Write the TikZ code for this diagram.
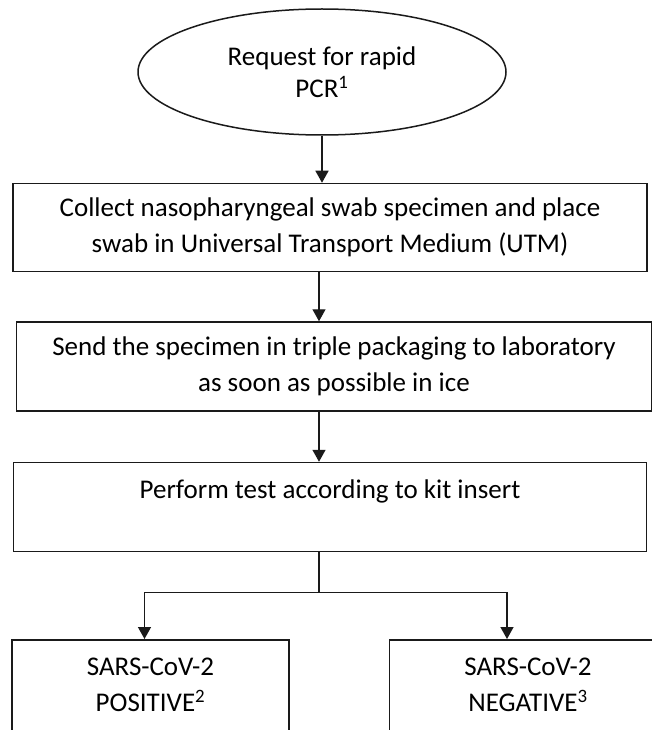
\documentclass[tikz,border=0pt]{standalone}
\usepackage{fontspec}
\setmainfont{Carlito}
\usepackage{tikz}
\usetikzlibrary{positioning, arrows.meta, shapes.geometric}
\definecolor{ink}{HTML}{1a1a1a}

\begin{document}
\begin{tikzpicture}[x=1pt, y=1pt, box/.style={draw=ink, line width=1.5pt, align=center, inner sep=0pt, font=\fontsize{27}{36}\selectfont}, res/.style={box, minimum width=277pt, inner ysep=18pt, anchor=north}, arr/.style={draw=ink, line width=1.4pt, -{Triangle[width=13pt, length=12pt]}}]
\clip (0,0) rectangle (652,-730);
\node[box, ellipse, minimum width=368pt, minimum height=126pt, font=\fontsize{27}{32}\selectfont] (req) at (322,-72) {Request for rapid\\PCR\textsuperscript{1}};
\node[box, minimum width=634pt, minimum height=88pt, below=47pt of req, xshift=8pt] (collect) {Collect nasopharyngeal swab specimen and place\\swab in Universal Transport Medium (UTM)};
\node[box, minimum width=635pt, minimum height=89pt, below=49pt of collect, xshift=4pt] (send) {Send the specimen in triple packaging to laboratory\\as soon as possible in ice};
\node[box, minimum width=633pt, minimum height=89pt, below=50pt of send, xshift=-4pt] (perform) {Perform test according to kit insert\\~};
\node[res] (pos) at (150.5,-639) {SARS-CoV-2\\POSITIVE\textsuperscript{2}\\~\\~};
\node[res, right=99pt of pos.north east, anchor=north west] (neg) {SARS-CoV-2\\NEGATIVE\textsuperscript{3}\\~\\~};
\draw[arr] (req.south) -- (req.south |- collect.north);
\draw[arr] ([xshift=-11pt]collect.south) -- ([xshift=-11pt]collect.south |- send.north);
\draw[arr] ([xshift=-15pt]send.south) -- ([xshift=-15pt]send.south |- perform.north);
\draw[ink, line width=1.4pt] ([xshift=-11pt]perform.south) -- ++(0,-40) coordinate (split);
\draw[arr] (split) -| ([xshift=-6pt]pos.north);
\draw[arr] (split) -| ([xshift=-21pt]neg.north);
\end{tikzpicture}
\end{document}
